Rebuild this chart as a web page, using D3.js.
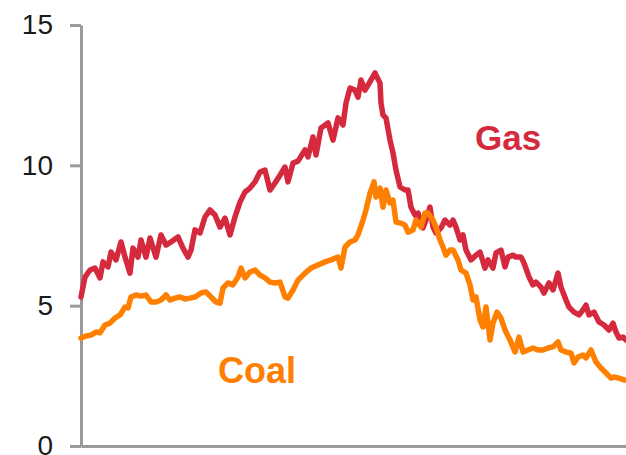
<!DOCTYPE html>
<html>
<head>
<meta charset="utf-8">
<script src="https://cdn.jsdelivr.net/npm/d3@7"></script>
<style>
  html, body { margin: 0; padding: 0; background: #fff; }
  svg { display: block; }
</style>
</head>
<body>
<svg id="chart" width="626" height="455"></svg>
<script>
// Weekly price index: [week, value]
const gasSeries = [
  [0,5.31],[4,6.02],[9,6.27],[14,6.34],[19,5.99],[22,6.56],[27,6.38],[30,6.91],[35,6.63],[40,7.27],
  [44,6.73],[49,6.16],[52,7.05],[57,6.73],[60,7.34],[65,6.73],[69,7.41],[75,6.73],[80,7.52],[85,7.16],
  [90,7.27],[97,7.45],[102,7.05],[107,6.73],[110,6.98],[114,7.70],[119,7.59],[124,8.16],[129,8.41],[134,8.23],
  [139,7.80],[144,8.12],[149,7.52],[154,8.16],[159,8.69],[164,9.05],[169,9.19],[174,9.41],[179,9.76],[184,9.83],
  [189,9.12],[194,9.37],[199,9.65],[204,9.94],[207,9.41],[212,10.08],[217,10.15],[224,10.55],[227,10.30],[232,11.01],
  [235,10.37],[240,11.33],[247,11.51],[252,10.90],[257,11.69],[262,11.44],[265,12.22],[269,12.75],[274,12.68],[277,12.43],
  [280,13.04],[284,12.68],[287,12.86],[290,13.04],[294,13.29],[299,12.93],[300,12.22],[302,11.79],[305,11.69],[309,10.90],
  [312,10.44],[315,9.83],[319,9.23],[324,9.12],[327,9.12],[330,8.51],[334,8.23],[337,8.30],[342,7.77],[345,8.05],
  [349,8.51],[352,7.80],[355,7.59],[360,7.77],[364,8.05],[369,7.87],[372,8.05],[375,7.80],[379,7.34],[382,7.52],
  [385,6.98],[390,6.63],[395,6.80],[399,6.91],[404,6.34],[407,6.63],[412,6.34],[415,6.88],[420,6.98],[424,6.38],
  [427,6.73],[432,6.80],[435,6.73],[440,6.73],[443,6.52],[448,6.02],[452,5.74],[455,5.84],[460,5.66],[463,5.45],
  [468,5.81],[472,5.56],[477,6.16],[480,5.66],[485,5.20],[488,4.95],[493,4.77],[498,4.67],[502,4.85],[505,5.02],
  [508,4.67],[513,4.77],[518,4.42],[523,4.31],[528,4.13],[532,4.38],[535,4.06],[538,3.85],[542,3.88],[545,3.78]
];

const coalSeries = [
  [0,3.85],[5,3.92],[10,3.95],[15,4.06],[19,4.03],[24,4.31],[29,4.38],[34,4.56],[39,4.67],[44,4.95],
  [47,4.92],[50,5.31],[55,5.38],[60,5.34],[65,5.38],[70,5.13],[75,5.13],[80,5.20],[85,5.38],[89,5.20],
  [94,5.27],[99,5.31],[104,5.24],[109,5.27],[114,5.31],[120,5.45],[125,5.49],[130,5.31],[135,5.13],[139,5.09],
  [142,5.63],[147,5.81],[152,5.74],[157,6.02],[160,6.34],[164,5.99],[169,6.20],[174,6.27],[179,6.09],[184,5.99],
  [189,5.84],[194,5.81],[199,5.84],[204,5.31],[207,5.27],[212,5.56],[217,5.91],[224,6.16],[230,6.34],[237,6.45],
  [244,6.56],[250,6.63],[257,6.73],[260,6.34],[264,7.09],[269,7.27],[274,7.34],[277,7.52],[282,8.05],[285,8.41],
  [289,9.01],[293,9.41],[295,8.87],[299,9.19],[302,8.51],[305,9.12],[309,8.66],[312,8.76],[315,7.98],[320,7.94],
  [324,7.87],[327,7.62],[332,7.70],[335,8.05],[340,7.80],[344,8.30],[347,8.30],[352,8.05],[355,7.80],[359,7.34],
  [362,7.09],[365,6.80],[369,6.98],[372,6.98],[377,6.63],[380,6.27],[385,6.16],[389,5.74],[392,5.20],[395,5.31],
  [399,4.49],[402,4.24],[405,4.95],[409,3.78],[412,4.38],[416,4.77],[420,4.56],[424,4.13],[429,3.78],[434,3.35],
  [438,3.88],[442,3.35],[447,3.42],[452,3.49],[457,3.42],[462,3.42],[467,3.49],[472,3.53],[477,3.71],[480,3.42],
  [485,3.35],[490,3.31],[493,2.96],[497,3.17],[502,3.24],[505,3.14],[510,3.42],[515,2.99],[520,2.78],[525,2.60],
  [530,2.42],[533,2.46],[538,2.42],[543,2.35],[545,2.35]
];

const yTicks = [0, 5, 10, 15];
const seriesLabels = ["Gas", "Coal"];

const svg = d3.select("#chart");
const margin = { left: 81, right: 0, top: 25, bottom: 9 };
const width = 626, height = 455;

const x = d3.scaleLinear().domain([0, 545]).range([margin.left, width - margin.right]);
const y = d3.scaleLinear().domain([0, 15]).range([height - margin.bottom, margin.top]);

const axisColor = "#9a9a9a";

// Y axis
const yAxis = svg.append("g")
  .attr("transform", `translate(${margin.left},0)`)
  .call(d3.axisLeft(y).tickValues(yTicks).tickSize(11).tickSizeOuter(0).tickPadding(17));
yAxis.select(".domain").attr("stroke", axisColor).attr("stroke-width", 3);
yAxis.selectAll(".tick line").attr("stroke", axisColor).attr("stroke-width", 3);
yAxis.selectAll(".tick text")
  .attr("fill", "#1a1a1a")
  .style("font-family", "'Liberation Sans', Arial, sans-serif")
  .style("font-size", "28px");

// X axis (baseline only)
const xAxis = svg.append("g")
  .attr("transform", `translate(0,${y(0)})`)
  .call(d3.axisBottom(x).tickValues([]).tickSizeOuter(0));
xAxis.select(".domain").attr("stroke", axisColor).attr("stroke-width", 3);

const line = d3.line().x(d => x(d[0])).y(d => y(d[1]));

svg.append("path")
  .datum(gasSeries)
  .attr("fill", "none")
  .attr("stroke", "#d52a3e")
  .attr("stroke-width", 5.5)
  .attr("stroke-linejoin", "round")
  .attr("stroke-linecap", "round")
  .attr("d", line);

svg.append("path")
  .datum(coalSeries)
  .attr("fill", "none")
  .attr("stroke", "#ff8000")
  .attr("stroke-width", 5.5)
  .attr("stroke-linejoin", "round")
  .attr("stroke-linecap", "round")
  .attr("d", line);

// Series labels
svg.append("text")
  .attr("x", x(394)).attr("y", y(10.53))
  .attr("fill", "#d52a3e")
  .style("font-family", "'Liberation Sans', Arial, sans-serif")
  .style("font-weight", "bold")
  .style("font-size", "35px")
  .text(seriesLabels[0]);

svg.append("text")
  .attr("x", x(137)).attr("y", y(2.24))
  .attr("fill", "#ff8000")
  .style("font-family", "'Liberation Sans', Arial, sans-serif")
  .style("font-weight", "bold")
  .style("font-size", "36px")
  .text(seriesLabels[1]);
</script>
</body>
</html>
